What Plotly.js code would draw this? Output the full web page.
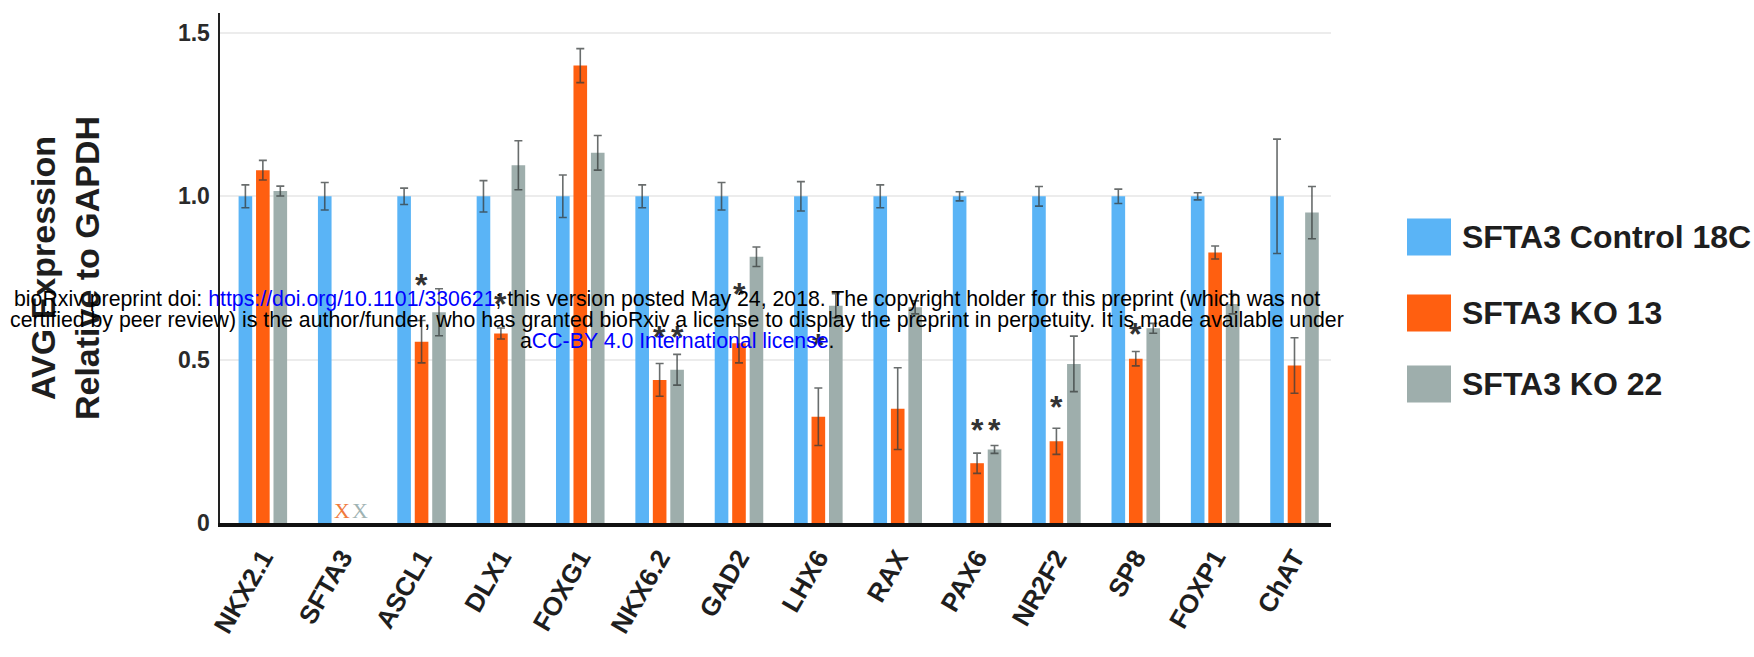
<!DOCTYPE html>
<html>
<head>
<meta charset="utf-8">
<script src="https://cdn.plot.ly/plotly-3.0.1.min.js"></script>
<style>html,body{margin:0;padding:0;background:#fff;}#chart{width:1754px;height:657px;}</style>
</head>
<body>
<div id="chart"></div>
<script>
// ---- data ----
const categories = ['NKX2.1','SFTA3','ASCL1','DLX1','FOXG1','NKX6.2','GAD2','LHX6','RAX','PAX6','NR2F2','SP8','FOXP1','ChAT'];
const seriesNames = ['SFTA3 Control 18C','SFTA3 KO 13','SFTA3 KO 22'];
const control    = [1.00, 1.00, 1.00, 1.00, 1.00, 1.00, 1.00, 1.00, 1.00, 1.00, 1.00, 1.00, 1.00, 1.00];
const controlErr = [0.035,0.042,0.025,0.048,0.065,0.035,0.042,0.045,0.035,0.014,0.030,0.022,0.011,0.175];
const ko13       = [1.08, null, 0.555,0.580,1.400,0.438,0.550,0.325,0.350,0.183,0.250,0.503,0.828,0.482];
const ko13Err    = [0.030,null, 0.065,0.017,0.052,0.050,0.060,0.088,0.125,0.031,0.040,0.022,0.020,0.085];
const ko22       = [1.016,null, 0.645,1.095,1.133,0.469,0.815,0.665,0.660,0.225,0.487,0.596,0.670,0.950];
const ko22Err    = [0.015,null, 0.072,0.075,0.053,0.047,0.030,0.037,0.020,0.012,0.085,0.015,0.030,0.080];
// significance marks: category, series index, height, text
const sigCategory = ['ASCL1','DLX1','NKX6.2','NKX6.2','GAD2','LHX6','PAX6','PAX6','NR2F2','SP8'];
const sigSeries   = [1,1,1,2,1,1,1,2,1,1];
const sigY        = [0.75,0.693,0.59,0.59,0.723,0.566,0.306,0.306,0.376,0.60];
const sigText     = ['*','*','*','*','*','*','*','*','*','*'];
// not-detected marks
const naCategory = 'SFTA3';
const naSeries = [1,2];
const naText = ['X','X'];
const yTickVals = [0,0.5,1.0,1.5];
const yTickText = ['0','0.5','1.0','1.5'];
const yTitle = 'AVG Expression<br>Relative to GAPDH';
const watermark = [
  'bioRxiv preprint doi: <span style="color:#0000ff">https://doi.org/10.1101/330621</span>; this version posted May 24, 2018. The copyright holder for this preprint (which was not',
  'certified by peer review) is the author/funder, who has granted bioRxiv a license to display the preprint in perpetuity. It is made available under',
  'a<span style="color:#0000ff">CC-BY 4.0 International license</span>.'
];

// ---- style ----
const colors = ['#5ab4f6','#ff5f10','#9eaeac'];
const naColors = ['#f07a3c','#9fb3b3'];
const W = 1754, H = 657;
const M = {l:220, r:423, t:13, b:134};
const PW = W - M.l - M.r, PH = H - M.t - M.b;
const px2x = p => (p - M.l) / PW;
const py2y = p => (H - M.b - p) / PH;
const bargap = 0.34, bargroupgap = 0.22;
const slot = (1 - bargap) / 3;
const FONT = 'Liberation Sans, Arial, sans-serif';

const vals = [control, ko13, ko22];
const errs = [controlErr, ko13Err, ko22Err];
const traces = seriesNames.map((n, i) => ({
  type: 'bar', name: n, x: categories, y: vals[i],
  marker: {color: colors[i]},
  error_y: {type: 'data', array: errs[i], visible: true, color: 'rgba(55,60,60,0.75)', thickness: 1.6, width: 4},
  showlegend: false, hoverinfo: 'x+y'
}));

const annotations = [];
sigCategory.forEach((c, k) => {
  annotations.push({
    x: categories.indexOf(c) + (sigSeries[k] - 1) * slot, y: sigY[k], xref: 'x', yref: 'y',
    text: sigText[k], showarrow: false, yanchor: 'middle', yshift: -7,
    font: {family: FONT, size: 32, color: '#333', weight: 700}
  });
});
naSeries.forEach((s, k) => {
  annotations.push({
    x: categories.indexOf(naCategory) + (s - 1) * slot, y: 0, xref: 'x', yref: 'y',
    text: naText[k], showarrow: false, yanchor: 'bottom', yshift: -2,
    font: {family: 'Liberation Serif, serif', size: 22, color: naColors[k]}
  });
});
// legend (custom, large swatches)
const legendCy = [237, 313, 384];
const shapes = [];
seriesNames.forEach((n, i) => {
  shapes.push({type: 'rect', xref: 'paper', yref: 'paper',
    x0: px2x(1407), x1: px2x(1451), y0: py2y(legendCy[i] + 18.5), y1: py2y(legendCy[i] - 18.5),
    fillcolor: colors[i], line: {width: 0}});
  annotations.push({x: px2x(1460), y: py2y(legendCy[i]), xref: 'paper', yref: 'paper',
    text: n, showarrow: false, xanchor: 'left', yanchor: 'middle',
    font: {family: FONT, size: 32, color: '#1e1e1e', weight: 700}});
});
// preprint watermark lines
const wmCy = [299, 320, 341];
const wmCx = [667, 677, 677];
watermark.forEach((t, i) => {
  annotations.push({x: px2x(wmCx[i]), y: py2y(wmCy[i]), xref: 'paper', yref: 'paper',
    text: t, showarrow: false, xanchor: 'center', yanchor: 'middle',
    font: {family: FONT, size: 21.3, color: '#000'}});
});

const layout = {
  width: W, height: H, margin: M,
  paper_bgcolor: '#fff', plot_bgcolor: '#fff',
  barmode: 'group', bargap: bargap, bargroupgap: bargroupgap,
  font: {family: FONT},
  xaxis: {type: 'category', range: [-0.54, 13.46], showline: true, linecolor: '#111', linewidth: 4,
    ticks: 'outside', ticklen: 0, tickangle: -60, ticklabelstandoff: 5,
    tickfont: {family: FONT, size: 26, color: '#1e1e1e', weight: 700}, showgrid: false, fixedrange: true},
  yaxis: {range: [0, 1.561], tickvals: yTickVals, ticktext: yTickText, showgrid: true, gridcolor: '#ececec', gridwidth: 2,
    showline: true, linecolor: '#222', linewidth: 2.5, zeroline: false, ticks: '', ticklabelstandoff: 3,
    tickfont: {family: FONT, size: 23, color: '#2a2a2a', weight: 700},
    title: {text: yTitle, font: {family: FONT, size: 34, color: '#1e1e1e', weight: 700}, standoff: 68}},
  annotations: annotations, shapes: shapes
};
Plotly.newPlot('chart', traces, layout, {displayModeBar: false, staticPlot: true});
</script>
</body>
</html>
